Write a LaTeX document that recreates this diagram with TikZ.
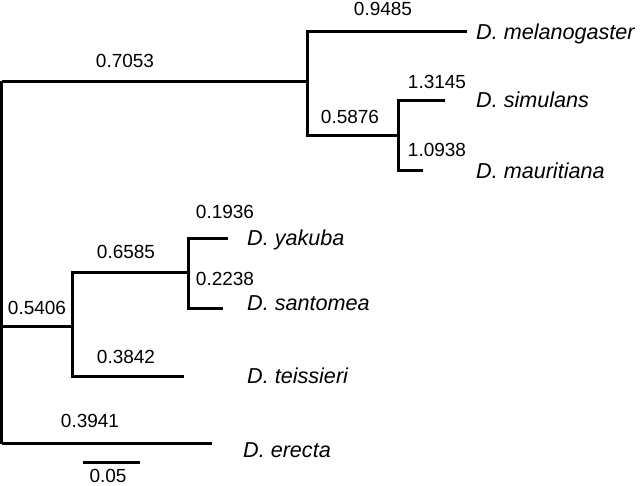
\documentclass[tikz,border=0pt]{standalone}
\usepackage{fontspec}
\setmainfont{Liberation Sans}
\begin{document}
\begin{tikzpicture}[x=1pt,y=-1pt,
  branch/.style={line width=3pt,line cap=butt,line join=miter},
  blen/.style={inner sep=0pt,text height=13.5pt,text depth=0pt,anchor=center,font=\fontsize{19}{21}\selectfont},
  taxon/.style={inner sep=0pt,text height=15.3pt,text depth=0pt,anchor=west,font=\fontsize{21.6}{23}\selectfont\itshape}]
\useasboundingbox (0,0) rectangle (640,485);
% tree vertices
\coordinate (rt) at (1.5,81);
\coordinate (rb) at (1.5,443.5);
\coordinate (n1) at (307,81);
\coordinate (n2) at (398,135);
\coordinate (n3) at (72,326);
\coordinate (n4) at (188,272);
% tips
\coordinate (mel) at (467,31.7);
\coordinate (sim) at (445,100);
\coordinate (mau) at (423,170);
\coordinate (yak) at (228,238);
\coordinate (san) at (223,308);
\coordinate (tei) at (184,376);
\coordinate (ere) at (212,443.5);
% branches
\draw[branch] (rt) -- (rb);
\draw[branch] (rt) -- (n1);
\draw[branch] (mel) -| (n1) |- (n2);
\draw[branch] (sim) -| (n2) |- (mau);
\draw[branch] (rb |- n3) -- (n3);
\draw[branch] (n4) -| (n3) |- (tei);
\draw[branch] (yak) -| (n4) |- (san);
\draw[branch] (rb) -- (ere);
% scale bar
\coordinate (sb1) at (83,462);
\coordinate (sb2) at (140,462);
\draw[branch] (sb1) -- (sb2);
\node[blen] (lsb) at (108,476) {0.05};
% branch lengths
\node[blen] (l1) at (383,8.5) {0.9485};
\node[blen] (l2) at (125,61) {0.7053};
\node[blen] (l3) at (437,82) {1.3145};
\node[blen] (l4) at (350,117) {0.5876};
\node[blen] (l5) at (437,150) {1.0938};
\node[blen] (l6) at (225,212) {0.1936};
\node[blen] (l7) at (126,252) {0.6585};
\node[blen] (l8) at (225,279) {0.2238};
\node[blen] (l9) at (37,308) {0.5406};
\node[blen] (l10) at (126,357) {0.3842};
\node[blen] (l11) at (90,421) {0.3941};
% taxa
\node[taxon] (tmel) at (476,32) {D. melanogaster};
\node[taxon] (tsim) at (476,100) {D. simulans};
\node[taxon] (tmau) at (476,171) {D. mauritiana};
\node[taxon] (tyak) at (247,238) {D. yakuba};
\node[taxon] (tsan) at (247,303) {D. santomea};
\node[taxon] (ttei) at (247,376) {D. teissieri};
\node[taxon] (tere) at (243,450) {D. erecta};
\end{tikzpicture}
\end{document}
